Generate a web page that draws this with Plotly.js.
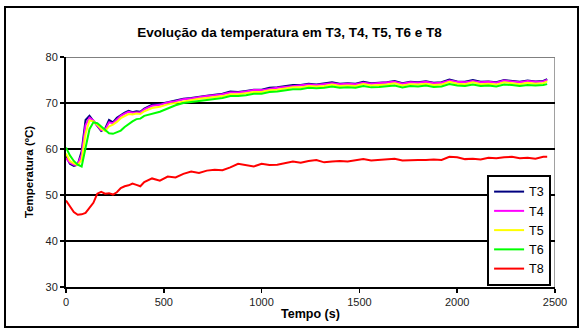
<!DOCTYPE html>
<html>
<head>
<meta charset="utf-8">
<script src="https://cdn.plot.ly/plotly-3.0.1.min.js"></script>
<style>
html,body{margin:0;padding:0;background:#fff;}
#chart{width:584px;height:331px;}
</style>
</head>
<body>
<div id="chart"></div>
<script>
const tempo = [0,20,40,60,80,100,120,140,160,180,200,220,240,260,280,300,320,340,360,380,400,
440,480,520,560,600,640,680,720,760,800,840,880,920,960,1000,1040,1080,1120,1160,1200,
1240,1280,1320,1360,1400,1440,1480,1520,1560,1600,1640,1680,1720,1760,1800,1840,1880,1920,
1960,2000,2040,2080,2120,2160,2200,2240,2280,2320,2360,2400,2440,2460];

const T3 = [58.5,56.8,56.3,56.6,59.5,66.3,67.2,66.2,65.0,63.9,64.4,66.3,65.8,66.8,67.4,67.9,68.3,68.0,68.2,68.1,68.8,
69.6,69.8,70.2,70.5,70.9,71.1,71.4,71.6,71.8,72.0,72.5,72.4,72.6,72.9,72.9,73.3,73.4,73.6,73.9,73.9,
74.2,74.0,74.2,74.5,74.2,74.3,74.2,74.6,74.3,74.4,74.5,74.8,74.3,74.6,74.5,74.7,74.4,74.5,
75.1,74.7,74.6,75.0,74.6,74.7,74.5,75.0,74.8,74.6,74.9,74.7,74.8,75.2];

const T4 = [58.0,57.0,56.6,56.6,58.8,65.2,66.8,66.2,65.1,64.1,64.2,65.8,65.6,66.5,67.2,67.7,68.1,67.9,68.0,68.0,68.6,
69.4,69.6,70.1,70.4,70.8,71.0,71.3,71.5,71.7,71.9,72.3,72.3,72.5,72.8,72.8,73.1,73.3,73.5,73.7,73.8,
74.0,73.9,74.1,74.3,74.1,74.2,74.1,74.4,74.2,74.3,74.4,74.6,74.2,74.5,74.4,74.6,74.3,74.4,
74.9,74.6,74.5,74.8,74.5,74.6,74.4,74.9,74.7,74.5,74.8,74.6,74.7,75.0];

const T5 = [59.0,57.4,56.9,56.5,57.6,63.3,66.2,66.0,65.3,64.4,63.9,64.9,65.3,65.9,66.7,67.2,67.6,67.5,67.7,67.6,68.2,
68.9,69.2,69.7,70.0,70.4,70.6,70.9,71.1,71.3,71.5,71.9,71.9,72.1,72.4,72.4,72.8,72.9,73.1,73.4,73.4,
73.7,73.6,73.7,74.0,73.7,73.8,73.7,74.1,73.8,73.9,74.0,74.3,73.8,74.1,74.0,74.2,73.9,74.0,
74.6,74.2,74.1,74.5,74.1,74.2,74.0,74.5,74.3,74.1,74.4,74.2,74.3,74.7];

const T6 = [60.3,58.6,57.4,56.6,56.2,60.5,64.3,65.8,65.6,64.9,64.2,63.4,63.3,63.6,64.0,64.8,65.5,66.0,66.5,66.6,67.2,
67.7,68.1,68.8,69.5,70.0,70.2,70.5,70.7,70.9,71.1,71.5,71.5,71.7,72.0,72.0,72.4,72.5,72.7,73.0,73.0,
73.3,73.2,73.3,73.6,73.3,73.4,73.3,73.7,73.4,73.5,73.6,73.8,73.4,73.7,73.6,73.8,73.5,73.6,
74.1,73.8,73.7,74.0,73.7,73.8,73.6,74.0,73.9,73.7,73.9,73.8,73.9,74.1];

const T8 = [48.8,47.6,46.3,45.7,45.8,46.1,47.2,48.3,50.3,50.7,50.3,50.4,50.1,50.6,51.5,51.9,52.1,52.5,52.2,51.9,52.8,
53.6,53.1,54.0,53.8,54.6,55.1,54.8,55.3,55.5,55.4,56.0,56.8,56.5,56.2,56.8,56.5,56.6,56.9,57.3,57.0,
57.4,57.6,57.1,57.3,57.4,57.3,57.6,57.8,57.5,57.6,57.7,57.9,57.5,57.6,57.6,57.6,57.7,57.6,
58.3,58.2,57.8,57.9,57.7,58.1,58.0,58.2,58.3,58.0,58.1,57.9,58.3,58.3];

const seriesNames = ['T3','T4','T5','T6','T8'];
const seriesData = [T3,T4,T5,T6,T8];
const seriesColors = ['#000080','#FF00FF','#FFFF00','#00FF00','#FF0000'];

const xTicks = [0,500,1000,1500,2000,2500];
const yTicks = [30,40,50,60,70,80];

const traces = seriesNames.map((n,i)=>({
  x: tempo, y: seriesData[i], name: n, type:'scatter', mode:'lines',
  line:{color:seriesColors[i], width:2}
}));

const layout = {
  width:584, height:331,
  paper_bgcolor:'#ffffff', plot_bgcolor:'#ffffff',
  margin:{l:66, r:29, t:57, b:44},
  font:{family:'Arial, "Liberation Sans", sans-serif', color:'#000', size:11},
  title:{text:'<b>Evolução da temperatura em T3, T4, T5, T6 e T8</b>',
    font:{size:13.5, color:'#000'}, x:267/584, xanchor:'center', xref:'paper', y:1-32/331, yanchor:'middle'},
  xaxis:{range:[0,2500], tickvals:xTicks, ticktext:xTicks.map(String),
    showgrid:false, zeroline:false, showline:true, linecolor:'#000', linewidth:2,
    ticks:'outside', ticklen:4, tickwidth:1.5, tickcolor:'#000',
    tickfont:{size:11, color:'#222'},
    title:{text:'<b>Tempo (s)</b>', font:{size:12.5}, standoff:2}},
  yaxis:{range:[30,80], tickvals:yTicks, ticktext:yTicks.map(String),
    showgrid:true, gridcolor:'#000', gridwidth:1.5, zeroline:false,
    showline:true, linecolor:'#000', linewidth:2,
    ticks:'outside', ticklen:4, tickwidth:1.5, tickcolor:'#000',
    tickfont:{size:11, color:'#222'},
    title:{text:'<b>Temperatura (ºC)</b>', font:{size:11.5}, standoff:10}},
  showlegend:true,
  legend:{x:0.992, y:0.487, xanchor:'right', yanchor:'top',
    bgcolor:'#fff', bordercolor:'#000', borderwidth:2,
    font:{size:12.5, color:'#000'}, itemwidth:30, tracegroupgap:0},
  shapes:[
    {type:'line', xref:'paper', yref:'y', x0:0, x1:1, y0:80, y1:80, line:{color:'#808080', width:2}, layer:'below'},
    {type:'line', xref:'x', yref:'paper', x0:2500, x1:2500, y0:0, y1:1, line:{color:'#808080', width:1.5}, layer:'below'},
    {type:'rect', xref:'paper', yref:'paper', x0:-61/489, x1:(578-66)/489, y0:-(327-287)/230, y1:(287-7)/230,
      line:{color:'#000', width:2}, fillcolor:'rgba(0,0,0,0)'}
  ]
};

Plotly.newPlot('chart', traces, layout, {displayModeBar:false, staticPlot:true});
</script>
</body>
</html>
